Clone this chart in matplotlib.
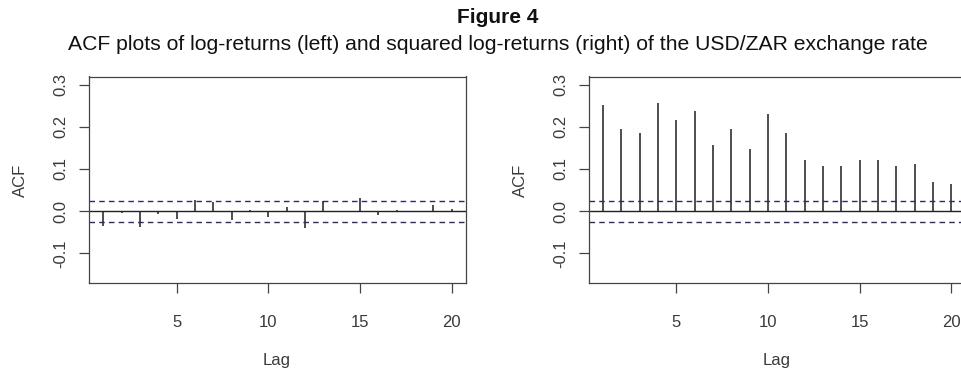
"""ACF plots of USD/ZAR log-returns and squared log-returns"""

import matplotlib
matplotlib.use("Agg")
import matplotlib.pyplot as plt

plt.rcParams['font.family'] = ['Liberation Sans', 'DejaVu Sans']

# lags 1..20 (lag 0 dropped, as in the original R plot)
lags = list(range(1, 21))

# acf of log-returns (left panel)
acf_returns = [-0.035, -0.005, -0.038, -0.007, -0.019, 0.026, 0.021, -0.021, 0.002, -0.015,
               0.010, -0.041, 0.024, 0.001, 0.032, -0.009, 0.002, -0.001, 0.014, 0.004]

# acf of squared log-returns (right panel)
acf_squared = [0.252, 0.194, 0.186, 0.256, 0.217, 0.237, 0.156, 0.194, 0.148, 0.230,
               0.186, 0.122, 0.106, 0.106, 0.122, 0.122, 0.106, 0.112, 0.069, 0.065]

conf_bound = 0.025
y_ticks = [-0.1, 0.0, 0.1, 0.2, 0.3]
x_ticks = [5, 10, 15, 20]

text_col = '#3a3a3a'
W, H = 962, 372


def acf_panel(ax, values):
    """ draw one R-style acf plot """
    ax.vlines(lags, 0, values, color='#303030', lw=1.2)
    ax.axhline(0, color='#222222', lw=1.0)
    ax.axhline(conf_bound, color='#2d2d66', lw=1.0, ls=(0, (4, 3)))
    ax.axhline(-conf_bound, color='#2d2d66', lw=1.0, ls=(0, (4, 3)))

    ax.set_xlim(0.24, 20.76)
    ax.set_ylim(-0.171, 0.319)
    ax.set_xticks(x_ticks)
    ax.set_yticks(y_ticks)
    ax.set_yticklabels(['%.1f' % t for t in y_ticks], rotation=90, va='center')
    ax.tick_params(axis='both', length=7, width=0.9, color='#444444',
                   labelsize=12, labelcolor=text_col)
    ax.tick_params(axis='x', pad=16)
    ax.tick_params(axis='y', pad=8)
    for sp in ax.spines.values():
        sp.set_color('#444444')
        sp.set_linewidth(0.9)


fig = plt.figure(figsize=(W / 100, H / 100), dpi=100)

# axes boxes in pixels: left, top, right, bottom
ax_w = 376.4 / W
ax_h = (283.3 - 76.5) / H
ax_bottom = 1 - 283.3 / H
ax1 = fig.add_axes([89.3 / W, ax_bottom, ax_w, ax_h])
ax2 = fig.add_axes([589.0 / W, ax_bottom, ax_w, ax_h])

acf_panel(ax1, acf_returns)
acf_panel(ax2, acf_squared)

# axis labels placed where R puts them
for x_ylab, x_xlab in [(20, 277), (520, 777)]:
    fig.text(x_ylab / W, 1 - 180 / H, 'ACF', rotation=90, ha='center', va='center',
             fontsize=12, color=text_col)
    fig.text(x_xlab / W, 1 - 360 / H, 'Lag', ha='center', va='center',
             fontsize=12, color=text_col)

fig.text(498 / W, 1 - 23 / H, 'Figure 4', ha='center', va='baseline',
         fontsize=15, fontweight='bold', color='#111111')
fig.text(498 / W, 1 - 50 / H,
         'ACF plots of log-returns (left) and squared log-returns (right) of the USD/ZAR exchange rate',
         ha='center', va='baseline', fontsize=15.2, color='#111111')

fig.savefig('out.png', dpi=100)
